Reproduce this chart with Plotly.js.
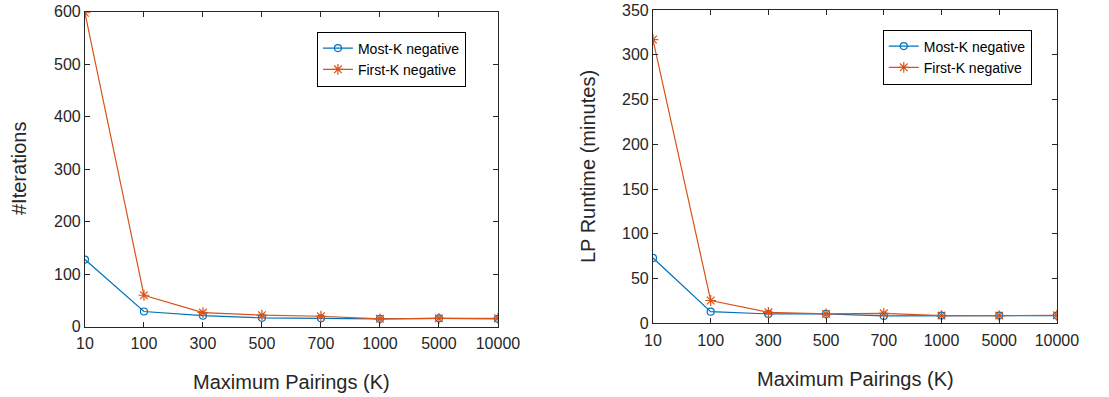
<!DOCTYPE html>
<html><head><meta charset="utf-8">
<script src="https://cdn.plot.ly/plotly-3.0.1.min.js"></script>
<style>html,body{margin:0;padding:0;background:#fff}#chart{width:1109px;height:397px}</style>
</head><body><div id="chart"></div>
<script>
const categories = ["10","100","300","500","700","1000","5000","10000"];
const iterMostK  = [128, 29, 21, 17, 16, 15, 16, 15];
const iterFirstK = [598, 60, 27, 22, 20, 15, 16, 16];
const lpMostK    = [73, 13, 10.5, 10.5, 8.3, 8.6, 8.6, 8.6];
const lpFirstK   = [317, 25.5, 12.3, 10.5, 11.2, 8.6, 8.6, 9];
const seriesNames = ["Most-K negative", "First-K negative"];
const yTitles = ["#Iterations", "LP Runtime (minutes)"];
const xTitle = "Maximum Pairings (K)";

const blue = "#0072BD", red = "#D95319";
const font = "Liberation Sans, Arial, Helvetica, sans-serif";

function tr(y, name, color, sym, xa, ya, leg) {
  return {x: categories, y: y, name: name, type: "scatter", mode: "lines+markers",
    xaxis: xa, yaxis: ya, legend: leg,
    line: {color: color, width: 1.2},
    marker: {symbol: sym, size: sym === "circle-open" ? 7 : 9, color: color, line: {width: 1.2, color: color}}};
}
const data = [
  tr(iterMostK, seriesNames[0], blue, "circle-open", "x", "y", "legend"),
  tr(iterFirstK, seriesNames[1], red, "asterisk-open", "x", "y", "legend"),
  tr(lpMostK, seriesNames[0], blue, "circle-open", "x2", "y2", "legend2"),
  tr(lpFirstK, seriesNames[1], red, "asterisk-open", "x2", "y2", "legend2")
];
const axCommon = {showline: true, linecolor: "#262626", linewidth: 1, mirror: "ticks",
  ticks: "inside", ticklen: 5, tickcolor: "#262626", showgrid: false, zeroline: false,
  tickfont: {family: font, size: 16, color: "#262626"}};
const legCommon = {bgcolor: "#fff", bordercolor: "#000", borderwidth: 1,
  font: {family: font, size: 14, color: "#000"}, itemwidth: 30, tracegroupgap: 0,
  xanchor: "left", yanchor: "middle"};
const titleFont = {family: font, size: 20, color: "#262626"};
const layout = {
  width: 1109, height: 397, margin: {l: 0, r: 0, t: 0, b: 0},
  paper_bgcolor: "#fff", plot_bgcolor: "#fff", showlegend: true,
  font: {family: font, color: "#262626"},
  xaxis: Object.assign({}, axCommon, {domain: [0.0766, 0.449], anchor: "y", type: "category", range: [0, 7], ticklabelstandoff: 2}),
  yaxis: Object.assign({}, axCommon, {domain: [0.177, 0.9705], anchor: "x", range: [0, 600], dtick: 100}),
  xaxis2: Object.assign({}, axCommon, {domain: [0.5888, 0.953], anchor: "y2", type: "category", range: [0, 7], ticklabelstandoff: 2}),
  yaxis2: Object.assign({}, axCommon, {domain: [0.1856, 0.9748], anchor: "x2", range: [0, 350], dtick: 50}),
  legend: Object.assign({}, legCommon, {x: 0.2858, y: 1-59/397}),
  legend2: Object.assign({}, legCommon, {x: 0.796, y: 1-57/397}),
  annotations: [
    {text: yTitles[0], xref: "paper", yref: "paper", x: 19/1109, y: 1-169/397, xanchor: "center", yanchor: "middle", showarrow: false, textangle: -90, font: titleFont},
    {text: yTitles[1], xref: "paper", yref: "paper", x: 588/1109, y: 1-167/397, xanchor: "center", yanchor: "middle", showarrow: false, textangle: -90, font: titleFont},
    {text: xTitle, xref: "paper", yref: "paper", x: 291/1109, y: 1-382/397, xanchor: "center", yanchor: "middle", showarrow: false, font: titleFont},
    {text: xTitle, xref: "paper", yref: "paper", x: 855/1109, y: 1-379/397, xanchor: "center", yanchor: "middle", showarrow: false, font: titleFont}
  ]
};
Plotly.newPlot("chart", data, layout, {staticPlot: true});
</script></body></html>
